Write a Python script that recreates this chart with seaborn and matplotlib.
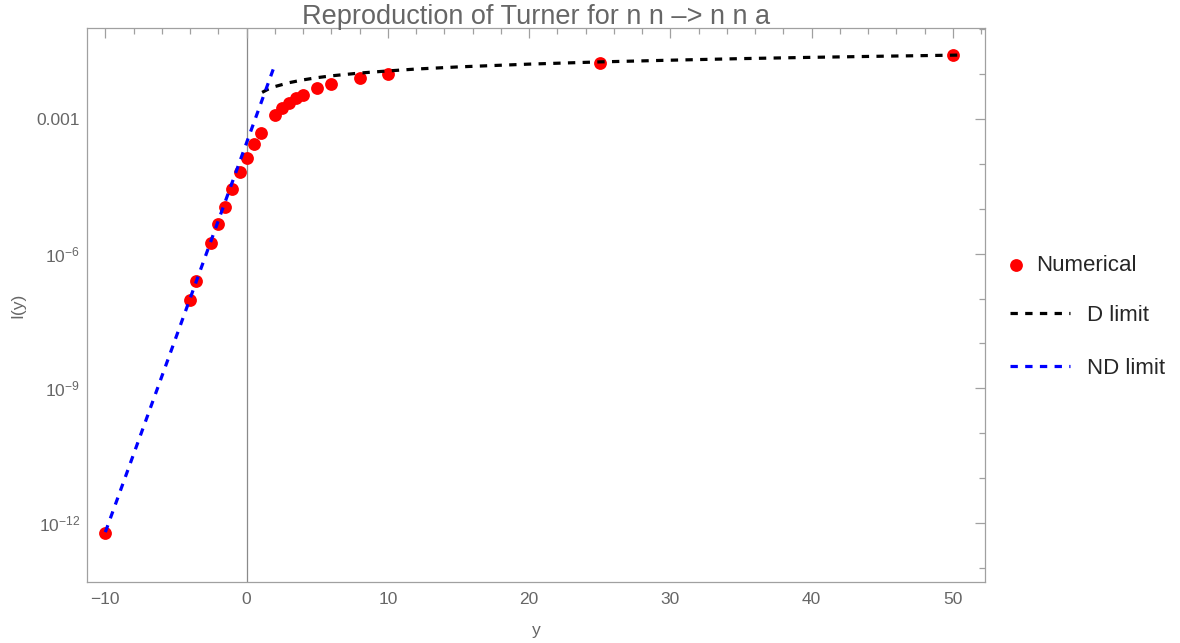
import numpy as np
import pandas as pd
import matplotlib
matplotlib.use("Agg")
import matplotlib.pyplot as plt
from matplotlib.ticker import FixedLocator, NullFormatter, FixedFormatter, MultipleLocator
import seaborn as sns

# ---- data ----
num_x = [-10, -4, -3.6, -2.5, -2, -1.5, -1, -0.5, 0, 0.5, 1, 2, 2.5, 3, 3.5, 4, 5, 6, 8, 10, 25, 50]
num_I = [6.0e-13, 9.5e-8, 2.5e-7, 1.76e-6, 4.5e-6, 1.12e-5, 2.75e-5, 6.5e-5, 1.38e-4, 2.75e-4,
         4.8e-4, 1.23e-3, 1.74e-3, 2.24e-3, 2.9e-3, 3.4e-3, 4.8e-3, 5.9e-3, 8.1e-3, 1.0e-2,
         1.78e-2, 2.66e-2]

d_x = [1.1, 1.5, 2, 3, 4, 5, 6, 8, 10, 12, 15, 20, 25, 30, 35, 40, 45, 50.5]
d_I = [3.9e-3, 4.55e-3, 5.25e-3, 6.4e-3, 7.4e-3, 8.3e-3, 9.1e-3, 1.05e-2, 1.17e-2, 1.29e-2,
       1.44e-2, 1.66e-2, 1.86e-2, 2.03e-2, 2.2e-2, 2.35e-2, 2.49e-2, 2.64e-2]

nd_x = [-10, 2]
nd_I = [6.3e-13, 1.6e-2]

ytick_vals = [1e-12, 1e-9, 1e-6, 1e-3]
ytick_labels = [r"$10^{-12}$", r"$10^{-9}$", r"$10^{-6}$", "0.001"]

title = "Reproduction of Turner for n n \u2013> n n a"

# ---- style ----
sns.set_style("white")
plt.rcParams["font.family"] = ["Liberation Sans", "DejaVu Sans"]
plt.rcParams["mathtext.fontset"] = "custom"
plt.rcParams["mathtext.rm"] = "Liberation Sans"
plt.rcParams["mathtext.it"] = "Liberation Sans:italic"
plt.rcParams["mathtext.bf"] = "Liberation Sans:bold"

frame_col = "#a0a0a0"
text_col = "#666666"

fig = plt.figure(figsize=(11.8, 6.43), dpi=100)
ax = fig.add_axes([0.0737, 0.0949, 0.761, 0.8616])
ax.set_yscale("log")

ax.axvline(0, color="#8a8a8a", lw=0.9, zorder=0)

df_num = pd.DataFrame({"y": num_x, "I": num_I})
df_d = pd.DataFrame({"y": d_x, "I": d_I})
df_nd = pd.DataFrame({"y": nd_x, "I": nd_I})

sns.lineplot(data=df_d, x="y", y="I", ax=ax, color="black", lw=2.3,
             linestyle=(0, (2.3, 2.3)), label="D limit", zorder=3, sort=True)
sns.lineplot(data=df_nd, x="y", y="I", ax=ax, color="#0000ff", lw=2.3,
             linestyle=(0, (2.3, 2.3)), label="ND limit", zorder=3, sort=True)
sns.scatterplot(data=df_num, x="y", y="I", ax=ax, color="#ff0000", s=85,
                linewidth=0, label="Numerical", zorder=2)

ax.set_xlim(-11.3, 52.27)
ax.set_ylim(10 ** -13.31, 10 ** -0.975)

# ticks
ax.xaxis.set_major_locator(MultipleLocator(10))
ax.xaxis.set_minor_locator(MultipleLocator(2))
ax.yaxis.set_major_locator(FixedLocator(ytick_vals))
ax.yaxis.set_major_formatter(FixedFormatter(ytick_labels))
ax.yaxis.set_minor_locator(FixedLocator([10.0 ** k for k in range(-14, 1)]))
ax.yaxis.set_minor_formatter(NullFormatter())

ax.tick_params(which="both", direction="in", top=True, right=True,
               color=frame_col, labelcolor=text_col, labelsize=12.5, width=0.9)
ax.tick_params(which="major", length=7)
ax.tick_params(which="minor", length=4)
ax.tick_params(axis="x", pad=7)
ax.tick_params(axis="y", pad=5)

for sp in ax.spines.values():
    sp.set_color(frame_col)
    sp.set_linewidth(0.9)

ax.set_xlabel("y", color=text_col, fontsize=12.5, labelpad=12)
ax.set_ylabel("I(y)", color=text_col, fontsize=12.5, labelpad=8)
ax.set_title(title, color=text_col, fontsize=19.5, pad=3)

# legends (outside, right)
handles, labels = ax.get_legend_handles_labels()
hmap = dict(zip(labels, handles))
if ax.get_legend() is not None:
    ax.get_legend().remove()

leg1 = fig.legend([hmap["Numerical"]], ["Numerical"], loc="center left",
                  bbox_to_anchor=(1006 / 1180, 1 - 265 / 643), frameon=False,
                  fontsize=16, handlelength=0.9, handletextpad=0.45,
                  borderpad=0, borderaxespad=0, scatterpoints=1)

leg2 = fig.legend([hmap["D limit"], hmap["ND limit"]], ["D limit", "ND limit"],
                  loc="center left", bbox_to_anchor=(1010 / 1180, 1 - 342 / 643),
                  frameon=False, fontsize=16, handlelength=2.7, handletextpad=0.77,
                  labelspacing=1.42, borderpad=0, borderaxespad=0)

fig.savefig("out.png", dpi=100)
